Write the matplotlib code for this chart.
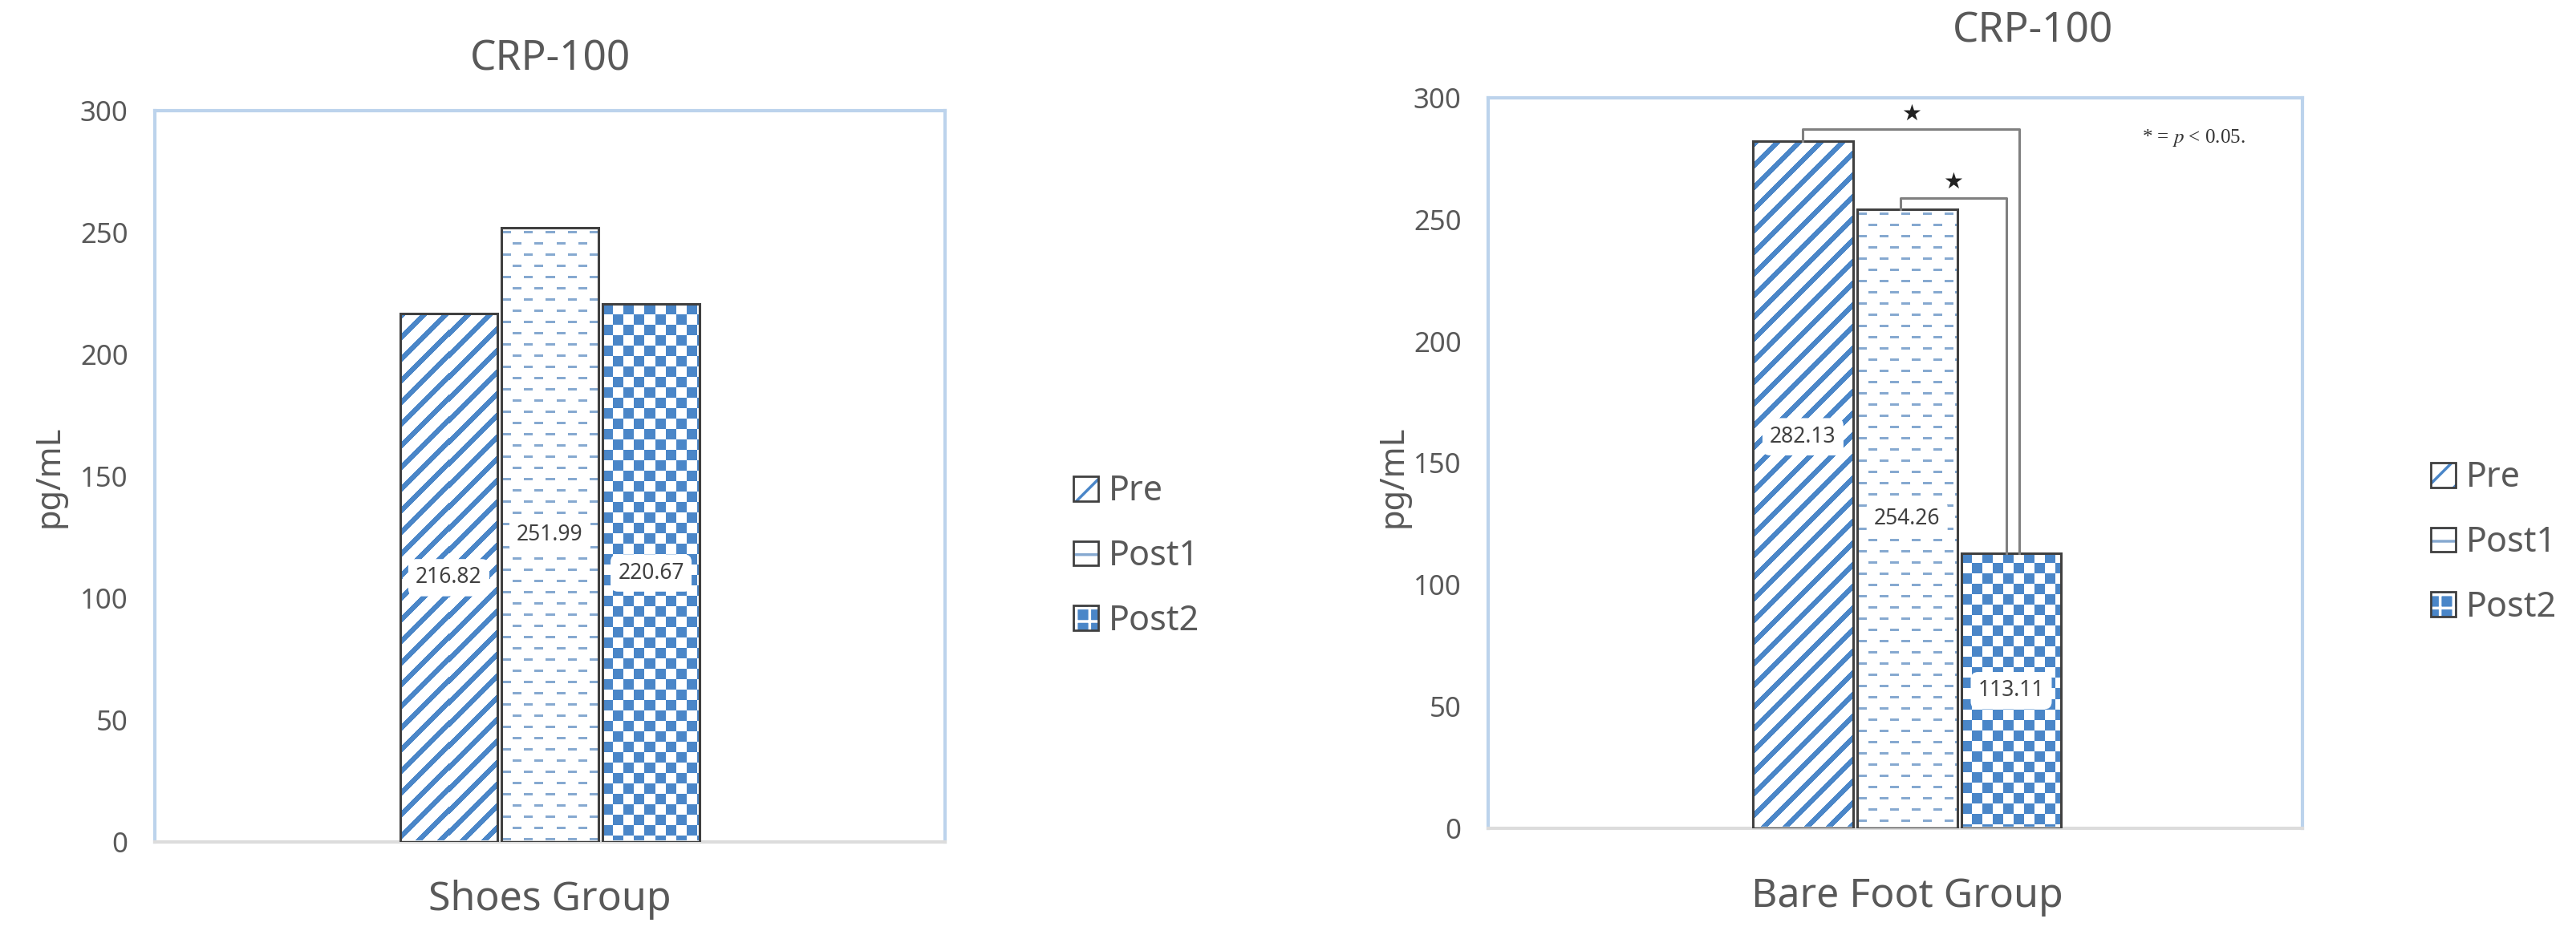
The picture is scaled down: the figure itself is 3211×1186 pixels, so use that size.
import numpy as np
import matplotlib
matplotlib.use("Agg")
import matplotlib.pyplot as plt
from matplotlib.patches import Patch

# ---- data ----
series = ["Pre", "Post1", "Post2"]
groups = ["Shoes Group", "Bare Foot Group"]
shoes_vals = [216.82, 251.99, 220.67]
barefoot_vals = [282.13, 254.26, 113.11]
titles = ["CRP-100", "CRP-100"]
y_ticks = [0, 50, 100, 150, 200, 250, 300]
# significance brackets on the bare foot panel: (from series, to series)
sig_pairs = [(0, 2), (1, 2)]

plt.rcParams["font.family"] = ["Noto Sans", "DejaVu Sans"]
plt.rcParams["hatch.linewidth"] = 2.5
plt.rcParams["mathtext.fontset"] = "stix"

BLUE = "#4a86c8"
DASH = "#86a9d0"
EDGE = "#404040"
GRAY = "#595959"

W, H = 3211, 1186
fig = plt.figure(figsize=(W / 100, H / 100), dpi=100)


def frac_box(x0, y0, x1, y1):
    # pixel box (top-left origin) -> figure fraction rect
    return [x0 / W, 1 - y1 / H, (x1 - x0) / W, (y1 - y0) / H]


ax1 = fig.add_axes(frac_box(193, 138, 1178, 1050))
ax2 = fig.add_axes(frac_box(1855, 122, 2870, 1033))


# tiles for the Excel-like pattern fills (one array cell = one pixel)
def rgb(c):
    return np.array(matplotlib.colors.to_rgb(c))


def diag_tile(p=27, w=9):
    t = np.ones((p, p, 3))
    i, j = np.indices((p, p))
    t[((i + j) % p) < w] = rgb(BLUE)
    return t


def dash_tile():
    t = np.ones((28, 27, 3))
    t[5:8, 1:12] = rgb(DASH)
    t[19:22, 14:25] = rgb(DASH)
    return t


def checker_tile(n=13):
    t = np.ones((2 * n, 2 * n, 3))
    t[:n, :n] = rgb(BLUE)
    t[n:, n:] = rgb(BLUE)
    return t


tiles = [diag_tile(), dash_tile(), checker_tile()]


def add_texture(ax, bar, tile):
    x0, y0 = bar.get_x(), bar.get_y()
    w, h = bar.get_width(), bar.get_height()
    (px0, py0), (px1, py1) = ax.transData.transform([(x0, y0), (x0 + w, y0 + h)])
    nx, ny = int(round(px1 - px0)), int(round(py1 - py0))
    ty, tx = tile.shape[:2]
    img = np.tile(tile, (ny // ty + 1, nx // tx + 1, 1))[:ny, :nx]
    im = ax.imshow(img, extent=(x0, x0 + w, y0, y0 + h), origin="upper",
                   interpolation="nearest", aspect="auto", zorder=2)
    im.set_clip_path(bar)


step = 0.128
width = 0.123
label_frac = [[0.5, 0.5, 0.5], [0.57, 0.5, 0.5]]
panels = [(ax1, shoes_vals, (-0.5, 0.5)), (ax2, barefoot_vals, (-0.515, 0.486))]

for i, (ax, vals, xl) in enumerate(panels):
    ax.set_xlim(*xl)
    ax.set_ylim(0, 300)
    xs = [(k - 1) * step for k in range(len(vals))]
    for k, (x, v) in enumerate(zip(xs, vals)):
        b = ax.bar(x, v, width, facecolor="white", linewidth=0, zorder=1)[0]
        add_texture(ax, b, tiles[k])
        ax.bar(x, v, width, facecolor="none", edgecolor=EDGE, linewidth=2.2, zorder=3)
        ax.text(x, v * label_frac[i][k], f"{v:.2f}", ha="center", va="center",
                fontsize=19, color=EDGE, zorder=5,
                bbox=dict(boxstyle="round,pad=0.35", fc="white", ec="none"))

    ax.set_yticks(y_ticks)
    ax.set_xticks([0], [groups[i]])
    ax.tick_params(axis="y", length=0, labelsize=25, labelcolor=GRAY, pad=24)
    ax.tick_params(axis="x", length=0, labelsize=36, labelcolor=GRAY,
                   pad=34 if i == 0 else 43)
    for s in ["left", "top", "right"]:
        ax.spines[s].set_color("#bcd3ec")
        ax.spines[s].set_linewidth(3)
    ax.spines["bottom"].set_color("#dcdcdc")
    ax.spines["bottom"].set_linewidth(3)
    ax.set_ylabel("pg/mL", fontsize=30, color=GRAY)
    ax.yaxis.label.set_va("center")
    ax.set_xlim(*xl)
    ax.set_ylim(0, 300)

ax1.yaxis.set_label_coords(-0.134, 0.5)
ax2.yaxis.set_label_coords(-0.117, 0.482)
ax1.set_title(titles[0], fontsize=37, color=GRAY, pad=36)
ax2.set_title(titles[1], fontsize=37, color=GRAY, pad=50, x=0.669)

# significance brackets
xs2 = [(k - 1) * step for k in range(len(barefoot_vals))]
levels = [287, 259]
offs = [(0.0, 0.01), (-0.008, -0.006)]
for (a, b), lv, (oa, ob) in zip(sig_pairs, levels, offs):
    xa, xb = xs2[a] + oa, xs2[b] + ob
    ax2.plot([xa, xa, xb, xb], [barefoot_vals[a], lv, lv, barefoot_vals[b]],
             color="#808080", lw=2.2, zorder=4, clip_on=False)
    ax2.text((xa + xb) / 2, lv + 2, "★", ha="center", va="bottom",
             fontsize=20, color="#222222", family="DejaVu Sans")

ax2.text(0.866, 0.945, r"* = $p$ < 0.05.", transform=ax2.transAxes,
         ha="center", va="center", fontsize=18, color="#333333",
         family="Liberation Serif")


# legends
def outline():
    return Patch(facecolor="none", edgecolor=EDGE, linewidth=2)


handles = [
    (Patch(facecolor="white", edgecolor=BLUE, hatch="/", linewidth=0), outline()),
    (Patch(facecolor="white", edgecolor=DASH, hatch="-", linewidth=0), outline()),
    (Patch(facecolor=BLUE, edgecolor="white", hatch="+", linewidth=0), outline()),
]
for xpix, ypix in [(1338, 694), (3030, 677)]:
    fig.legend(handles, series, loc="center left",
               bbox_to_anchor=(xpix / W, 1 - ypix / H), frameon=False,
               fontsize=31, labelcolor=GRAY, handlelength=0.72, handleheight=0.72,
               handletextpad=0.3, labelspacing=0.85, borderpad=0, borderaxespad=0)

fig.savefig("out.png", dpi=100)
